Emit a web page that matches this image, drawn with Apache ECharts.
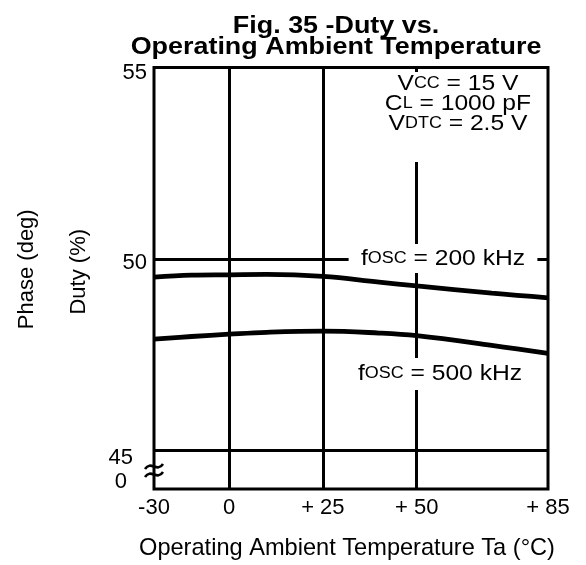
<!DOCTYPE html>
<html>
<head>
<meta charset="utf-8">
<script src="https://cdn.jsdelivr.net/npm/echarts@6/dist/echarts.min.js"></script>
<style>html,body{margin:0;padding:0;background:#fff}#chart{width:586px;height:565px}</style>
</head>
<body>
<div id="chart"></div>
<script>
// Ambient temperature (°C) at which duty was sampled
const temperatures = [-30, -15, 0, 10, 25, 40, 50, 70, 85];
// Duty (%) at fosc = 200 kHz
const duty200k = [49.53, 49.58, 49.59, 49.60, 49.55, 49.40, 49.30, 49.11, 48.99];
// Duty (%) at fosc = 500 kHz
const duty500k = [47.91, 47.98, 48.04, 48.09, 48.12, 48.07, 48.00, 47.75, 47.54];

// Temperature axis ticks and labels
const tempTicks = [-30, 0, 25, 50, 85];
const tempTickLabels = ['-30', '0', '+ 25', '+ 50', '+ 85'];
const tempGridLines = [0, 25, 50];

// Duty axis ticks and labels (bottom of the axis is a broken "0")
const dutyTicks = [55, 50, 45, 44];
const dutyTickLabels = ['55', '50', '45', '0'];
const dutyGridLines = [50, 45];

// The part of the temperature axis below 0 °C is drawn compressed
const BELOW_ZERO_SCALE = 2 / 3;
const toAxis = t => (t < 0 ? t * BELOW_ZERO_SCALE : t);

const FONT = "'Liberation Sans', Arial, Helvetica, sans-serif";

const chart = echarts.init(document.getElementById('chart'), null, { renderer: 'canvas' });

const labelRich = {
  t0: { padding: [10, 0, 0, 0] },
  t1: { padding: [8, 0, 0, 0] },
  t2: { padding: [14, 14, 0, 0] },
  t3: { padding: [0, 20, 15, 0] }
};
Object.values(labelRich).forEach(r => { r.fontSize = 22; r.fontFamily = FONT; r.color = '#000'; });

const subRich = {
  b: { fontSize: 22, fontFamily: FONT, color: '#000', lineHeight: 20 },
  s: { fontSize: 16, fontFamily: FONT, color: '#000', lineHeight: 20 }
};

// Annotation text on a white box, slightly widened like the rest of the lettering
function note(text, x, y, padding) {
  return {
    type: 'text',
    z: 100,
    x: x,
    y: y,
    scaleX: 1.12,
    style: {
      text: text,
      fill: '#000',
      fontSize: 22,
      fontFamily: FONT,
      lineHeight: 20,
      align: 'center',
      verticalAlign: 'top',
      backgroundColor: '#fff',
      padding: padding,
      rich: subRich
    }
  };
}

// One wavy stroke of the axis-break mark
function breakWave(x1, y1, x2, y2) {
  const w = x2 - x1, a = 9;
  return {
    type: 'bezierCurve',
    z: 100,
    shape: {
      x1: x1, y1: y1, x2: x2, y2: y2,
      cpx1: x1 + w / 3, cpy1: y1 - a,
      cpx2: x1 + 2 * w / 3, cpy2: y2 + a
    },
    style: { stroke: '#000', lineWidth: 2.6, fill: null }
  };
}

const option = {
  backgroundColor: '#fff',
  animation: false,
  grid: {
    left: 154, right: 38, top: 67.5, bottom: 74,
    show: true, borderColor: '#000', borderWidth: 3, backgroundColor: 'transparent'
  },
  xAxis: {
    type: 'value',
    min: toAxis(tempTicks[0]),
    max: tempTicks[tempTicks.length - 1],
    interval: 5,
    axisLine: { show: false },
    axisTick: { show: false },
    splitLine: { show: false },
    axisLabel: {
      margin: 8,
      fontSize: 22,
      fontFamily: FONT,
      color: '#000',
      showMinLabel: true,
      showMaxLabel: true,
      hideOverlap: false,
      formatter: v => {
        const i = tempTicks.findIndex(t => Math.abs(toAxis(t) - v) < 1e-6);
        return i < 0 ? '' : tempTickLabels[i];
      }
    },
    name: 'Operating Ambient Temperature Ta (°C)',
    nameLocation: 'middle',
    nameGap: 47,
    nameTextStyle: { fontSize: 23.6, fontFamily: FONT, color: '#000', padding: [0, 8, 0, 0] }
  },
  yAxis: [{
    type: 'value',
    min: 44,
    max: 55,
    interval: 1,
    axisLine: { show: false },
    axisTick: { show: false },
    splitLine: { show: false },
    axisLabel: {
      margin: 7,
      color: '#000',
      fontSize: 22,
      fontFamily: FONT,
      showMinLabel: true,
      showMaxLabel: true,
      formatter: v => {
        const i = dutyTicks.indexOf(Math.round(v));
        return i < 0 ? '' : '{t' + i + '|' + dutyTickLabels[i] + '}';
      },
      rich: labelRich
    },
    name: 'Duty (%)',
    nameLocation: 'middle',
    nameRotate: 90,
    nameGap: 64,
    nameTextStyle: { fontSize: 22, fontFamily: FONT, color: '#000', padding: [0, 0, 0, 13] }
  }, {
    type: 'value',
    position: 'left',
    min: 44,
    max: 55,
    axisLine: { show: false },
    axisTick: { show: false },
    axisLabel: { show: false },
    splitLine: { show: false },
    name: 'Phase (deg)',
    nameLocation: 'middle',
    nameRotate: 90,
    nameGap: 116,
    nameTextStyle: { fontSize: 22, fontFamily: FONT, color: '#000', padding: [0, 0, 0, 18] }
  }],
  series: [
    {
      type: 'line',
      data: [],
      silent: true,
      markLine: {
        silent: true,
        symbol: ['none', 'none'],
        label: { show: false },
        lineStyle: { color: '#000', width: 3, type: 'solid' },
        data: tempGridLines.map(t => ({ xAxis: toAxis(t) }))
          .concat(dutyGridLines.map(v => ({ yAxis: v })))
      }
    },
    {
      name: 'fosc = 200 kHz',
      type: 'line',
      smooth: 0.4,
      showSymbol: false,
      lineStyle: { color: '#000', width: 4.8 },
      data: temperatures.map((t, i) => [toAxis(t), duty200k[i]])
    },
    {
      name: 'fosc = 500 kHz',
      type: 'line',
      smooth: 0.4,
      showSymbol: false,
      lineStyle: { color: '#000', width: 4.8 },
      data: temperatures.map((t, i) => [toAxis(t), duty500k[i]])
    }
  ],
  graphic: [
    {
      type: 'text',
      z: 100,
      x: 336,
      y: 16,
      scaleX: 1.17,
      style: {
        text: 'Fig. 35 -Duty vs.\nOperating Ambient Temperature',
        fill: '#000',
        fontSize: 23,
        fontWeight: 'bold',
        fontFamily: FONT,
        lineHeight: 21,
        align: 'center',
        verticalAlign: 'top'
      }
    },
    note('{b|V}{s|CC} = 15 V\n{b|C}{s|L} = 1000 pF\n{b|V}{s|DTC} = 2.5 V', 458, 72, [2, 10, 28, 10]),
    note('{b|f}{s|OSC} = 200 kHz', 443, 244, [5, 11, 4, 11]),
    note('{b|f}{s|OSC} = 500 kHz', 440, 358, [6, 8, 6, 8]),
    breakWave(145, 469, 163, 464),
    breakWave(145, 477, 163, 472)
  ]
};

chart.setOption(option);
</script>
</body>
</html>
